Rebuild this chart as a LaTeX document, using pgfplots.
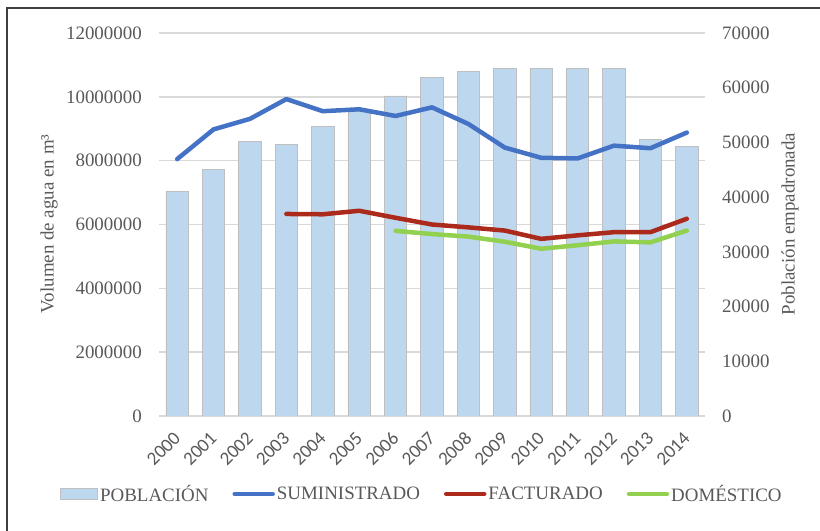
\documentclass[border=0pt]{standalone}
\usepackage{pgfplots}
\pgfplotsset{compat=1.18}
\usepackage{fontspec}
\setmainfont{Liberation Serif}
\newfontfamily\carlito{Carlito}
\definecolor{txt}{HTML}{595959}
\definecolor{barfill}{HTML}{BDD7EE}
\definecolor{barline}{HTML}{BFBFBF}
\definecolor{gridc}{HTML}{D9D9D9}
\definecolor{sumi}{HTML}{4472C4}
\definecolor{fact}{HTML}{AB2A1C}
\definecolor{dome}{HTML}{92D050}
\definecolor{frame}{HTML}{404040}
\pgfplotsset{
  base/.style={
    at={(159bp,115bp)}, anchor=south west, scale only axis,
    width=546bp, height=383bp, xmin=-0.5, xmax=14.5,
    tick style={draw=none}, major tick length=0pt,
    axis line style={draw=none},
    /pgf/number format/assume math mode=true,
    ticklabel style={font=\fontsize{19}{19}\selectfont, text=txt},
    scaled y ticks=false,
    yticklabel style={/pgf/number format/fixed, /pgf/number format/1000 sep={}},
  }
}
\begin{document}
\begin{tikzpicture}
\useasboundingbox (0bp,0bp) rectangle (820bp,531bp);
\draw[frame, line width=1.3bp] (7bp,-2bp) -- (7bp,523bp) -- (822bp,523bp);
% Axis A: grid, left ticks, x ticks
\begin{axis}[base,
  ymin=0, ymax=12000000, ytick={0,2000000,4000000,6000000,8000000,10000000,12000000},
  ymajorgrids, grid style={gridc, line width=1.5bp},
  xtick={0,...,14},
  xticklabels={2000,2001,2002,2003,2004,2005,2006,2007,2008,2009,2010,2011,2012,2013,2014},
  xticklabel style={font=\carlito\fontsize{19}{19}\selectfont, text=txt, rotate=45, anchor=east, inner sep=0pt},
  xticklabel shift=19bp,
  yticklabel style={anchor=east, inner sep=0pt},
  yticklabel shift=17bp,
]
\addplot[draw=none] coordinates {(0,0)};
\end{axis}
% Axis B: bars, right axis
\begin{axis}[base,
  axis y line*=right, axis x line=none,
  ymin=0, ymax=70000, ytick={0,10000,20000,30000,40000,50000,60000,70000},
  xtick=\empty,
  yticklabel style={anchor=west, inner sep=0pt},
  yticklabel shift=17bp,
]
\addplot[ybar, bar width=22.5bp, fill=barfill, draw=barline, line width=0.8bp] coordinates {
 (0,41100) (1,45000) (2,50100) (3,49700) (4,52900) (5,55700) (6,58500) (7,61900)
 (8,62900) (9,63500) (10,63500) (11,63600) (12,63500) (13,50600) (14,49300)};
\end{axis}
% Axis C: lines and legend
\begin{axis}[base,
  ymin=0, ymax=12000000, xtick=\empty, ytick=\empty,
  legend columns=4,
  legend style={draw=none, fill=none, at={(0.4817,-0.2037)}, anchor=center,
    font=\fontsize{19}{19}\selectfont, text=txt,
    /tikz/every even column/.append style={column sep=22bp}},
  legend cell align=left,
]
\addlegendimage{legend image code/.code={\draw[fill=barfill,draw=barline,line width=0.8bp] (0bp,-5.5bp) rectangle (37bp,5.5bp);}}
\addlegendentry{POBLACIÓN}
\addplot[sumi, line width=4.5bp, line cap=round, line join=round,
  legend image code/.code={\draw (2bp,0bp) -- (40bp,0bp);}] coordinates {
 (0,8050000) (1,8980000) (2,9310000) (3,9930000) (4,9550000) (5,9610000) (6,9400000)
 (7,9670000) (8,9150000) (9,8410000) (10,8090000) (11,8070000) (12,8470000) (13,8390000) (14,8880000)};
\addlegendentry{SUMINISTRADO}
\addplot[fact, line width=4.5bp, line cap=round, line join=round,
  legend image code/.code={\draw (2bp,0bp) -- (40bp,0bp);}] coordinates {
 (3,6330000) (4,6320000) (5,6430000) (6,6210000) (7,6000000) (8,5910000)
 (9,5810000) (10,5550000) (11,5660000) (12,5760000) (13,5760000) (14,6180000)};
\addlegendentry{FACTURADO}
\addplot[dome, line width=4.5bp, line cap=round, line join=round,
  legend image code/.code={\draw (2bp,0bp) -- (40bp,0bp);}] coordinates {
 (6,5800000) (7,5700000) (8,5620000) (9,5460000) (10,5240000) (11,5350000)
 (12,5470000) (13,5440000) (14,5810000)};
\addlegendentry{DOMÉSTICO}
\end{axis}
\node[rotate=90, text=txt, font=\fontsize{19}{19}\selectfont] at (49bp,307bp) {Volumen de agua en m³};
\node[rotate=90, text=txt, font=\fontsize{19}{19}\selectfont] at (790bp,307bp) {Población empadronada};
\end{tikzpicture}
\end{document}
